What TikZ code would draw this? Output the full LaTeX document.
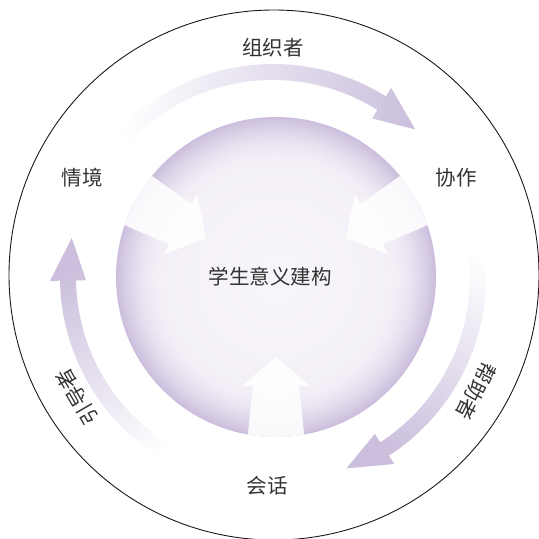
\documentclass[tikz,border=0pt]{standalone}
\usepackage{fontspec}
\newfontfamily\cjk{Noto Sans CJK SC}
\usetikzlibrary{calc}
\definecolor{lav}{HTML}{CBBFDD}
\definecolor{sB}{HTML}{F4F0F7}
\definecolor{sE}{HTML}{CBBEDD}
\definecolor{txt}{HTML}{333333}
\begin{document}
\begin{tikzpicture}[x=1pt,y=1pt,
  lbl/.style={font=\cjk\fontsize{20.5}{22}\selectfont, text=txt, inner sep=0pt},
  inarrow/.style={fill=white, fill opacity=0.88}]
\useasboundingbox (0,0) rectangle (539,539);
\clip (0,0) rectangle (539,539);
\coordinate (S) at (276,262);
\coordinate (C) at (273,262);
\coordinate (O) at (274,264);
% outer circle
\draw[line width=0.9pt, black!90] (O) circle[radius=265];
% curved arrows
\shade[left color=white, right color=lav]
  ([shift={(C)}]136:213) arc[start angle=136, end angle=58, radius=213]
  -- ([shift={(C)}]58:223) -- ([shift={(C)}]46:205) -- ([shift={(C)}]58:187)
  -- ([shift={(C)}]58:197) arc[start angle=58, end angle=136, radius=197] -- cycle;
\shade[top color=white, bottom color=lav, shading angle=-28]
  ([shift={(C)}]14:213) arc[start angle=14, end angle=-57, radius=213]
  -- ([shift={(C)}]-57:223) -- ([shift={(C)}]-69:205) -- ([shift={(C)}]-57:187)
  -- ([shift={(C)}]-57:197) arc[start angle=-57, end angle=14, radius=197] -- cycle;
\shade[top color=white, bottom color=lav, shading angle=-152]
  ([shift={(C)}]-112:213) arc[start angle=-112, end angle=-179, radius=213]
  -- ([shift={(C)}]-179:223) -- ([shift={(C)}]-191:205) -- ([shift={(C)}]-179:187)
  -- ([shift={(C)}]-179:197) arc[start angle=-179, end angle=-112, radius=197] -- cycle;
% sphere: concentric fills
\foreach \r in {160,159,...,110} {
  \pgfmathsetmacro\p{((\r-110)/50)^2*100}
  \fill[sE!\p!sB] (S) circle[radius=\r];
}
\shade[inner color=white!40!sB, outer color=sB] (S) circle[radius=110];
% white arrows
\begin{scope}
  \clip (S) circle[radius=160];
  \foreach \a in {151,29,270} {
    \fill[inarrow, shift={(S)}, rotate=\a]
      (80,0) -- (109,34) -- (109,23) -- (175,30) -- (175,-30) -- (109,-23) -- (109,-34) -- cycle;
  }
\end{scope}
% labels
\node[lbl] (t1) at (273,491) {组织者};
\node[lbl] (t2) at (82,361) {情境};
\node[lbl] (t3) at (456,361) {协作};
\node[lbl] (t4) at (270,262) {学生意义建构};
\node[lbl] (t5) at (267,53) {会话};
\node[lbl, rotate=120] (t6) at (77,142) {引导者};
\node[lbl, rotate=-117] (t7) at (476,148) {帮助者};
\end{tikzpicture}
\end{document}
